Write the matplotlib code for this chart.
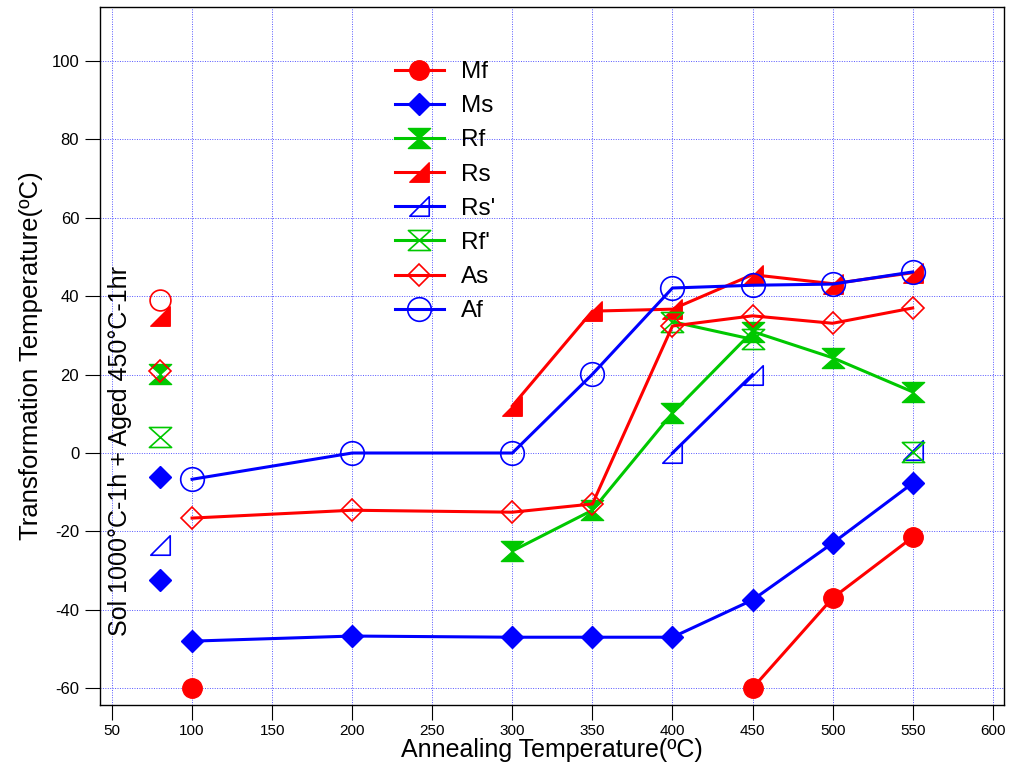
import numpy as np
import matplotlib
matplotlib.use("Agg")
import matplotlib.pyplot as plt
from matplotlib.path import Path

plt.rcParams['font.family'] = ['Liberation Sans', 'DejaVu Sans']
plt.rcParams['axes.unicode_minus'] = False

nan = np.nan
anneal = [100, 200, 300, 350, 400, 450, 500, 550]
Mf  = [-60, nan, nan, nan, nan, -60, -37, -21.5]
Ms  = [-48, -46.7, -47, -47, -47, -37.5, -23, -7.7]
Rf  = [nan, nan, -25, -14.6, 10.2, 31, 24.3, 15.6]
Rs  = [nan, nan, 12, 36.2, 36.7, 45.5, 43.2, 46]
Rs2 = [nan, nan, nan, nan, 0, 20, nan, 0.7]
Rf2 = [nan, nan, nan, nan, 33.5, 29, nan, 0.2]
As  = [-16.6, -14.6, -15.1, -13, 32.4, 35, 33.1, 37]
Af  = [-6.7, 0, 0, 20.1, 42.1, 42.8, 43.1, 46.2]

# Sol 1000C-1h + Aged 450C-1hr values (plotted at x=80)
sol_x = 80
sol_af_red = [39]
sol_rs = [35]
sol_rf = [20.2]
sol_as = [21]
sol_rf2 = [4.1]
sol_ms = [-6, -32.4]
sol_rs2 = [-23.5]

xticks = [50, 100, 150, 200, 250, 300, 350, 400, 450, 500, 550, 600]
yticks = [-60, -40, -20, 0, 20, 40, 60, 80, 100]

RED = '#ff0000'
BLUE = '#0000ff'
GREEN = '#00c800'

hv = [(-1, 0.9), (1, 0.9), (0, 0), (1, -0.9), (-1, -0.9), (0, 0), (-1, 0.9)]
hour = Path(hv, [Path.MOVETO] + [Path.LINETO] * 5 + [Path.CLOSEPOLY])
tv = [(1, -1), (1, 1), (-1, -1), (1, -1)]
rtri = Path(tv, [Path.MOVETO, Path.LINETO, Path.LINETO, Path.CLOSEPOLY])

fig = plt.figure(figsize=(10.10, 7.67), dpi=100)
ax = fig.add_axes([0.099, 0.0808, 0.895, 0.9101])

lw = 2.2
series = [
    ('Mf', Mf, RED, 'o', 14, True),
    ('Ms', Ms, BLUE, 'D', 11, True),
    ('Rf', Rf, GREEN, hour, 16, True),
    ('Rs', Rs, RED, rtri, 14, True),
    ("Rs'", Rs2, BLUE, rtri, 14, False),
    ("Rf'", Rf2, GREEN, hour, 16, False),
    ('As', As, RED, 'D', 11, False),
    ('Af', Af, BLUE, 'o', 17, False),
]
for name, ys, c, m, ms, filled in series:
    ax.plot(anneal, ys, color=c, lw=lw, marker=m, markersize=ms,
            markerfacecolor=c if filled else 'none', markeredgecolor=c,
            markeredgewidth=1.0 if filled else 1.2, label=name, zorder=3)

def solpts(ys, c, m, ms, filled):
    ax.plot([sol_x] * len(ys), ys, ls='none', marker=m, markersize=ms,
            markerfacecolor=c if filled else 'none', markeredgecolor=c,
            markeredgewidth=1.0 if filled else 1.2, zorder=3)

solpts(sol_af_red, RED, 'o', 15, False)
solpts(sol_rs, RED, rtri, 14, True)
solpts(sol_rf, GREEN, hour, 16, True)
solpts(sol_as, RED, 'D', 11, False)
solpts(sol_rf2, GREEN, hour, 16, False)
solpts(sol_ms, BLUE, 'D', 11, True)
solpts(sol_rs2, BLUE, rtri, 14, False)

ax.set_xlim(42.5, 607)
ax.set_ylim(-64.3, 113.8)
ax.set_xticks(xticks)
ax.set_yticks(yticks)
ax.tick_params(axis='x', direction='out', length=11, width=0.8, labelsize=11, pad=3)
ax.tick_params(axis='y', direction='out', length=11, width=0.8, labelsize=12, pad=4)
ax.grid(True, color='#5555ff', linestyle=(0, (1, 1.5)), linewidth=0.7)
for s in ax.spines.values():
    s.set_linewidth(1.0)

ax.set_xlabel('Annealing Temperature(ºC)', fontsize=18, labelpad=0)
ax.set_ylabel('Transformation Temperature(ºC)', fontsize=18.5, labelpad=6)

ax.text(55, 0.5, 'Sol 1000°C-1h + Aged 450°C-1hr', rotation=90,
        ha='center', va='center', fontsize=18)

leg = ax.legend(loc='upper left', bbox_to_anchor=(395 / 1010, 1 - 61 / 767),
                bbox_transform=fig.transFigure, frameon=False, fontsize=17.5,
                handlelength=2.0, handletextpad=0.7, labelspacing=0.5,
                borderpad=0, borderaxespad=0)

fig.savefig('out.png', dpi=100)
